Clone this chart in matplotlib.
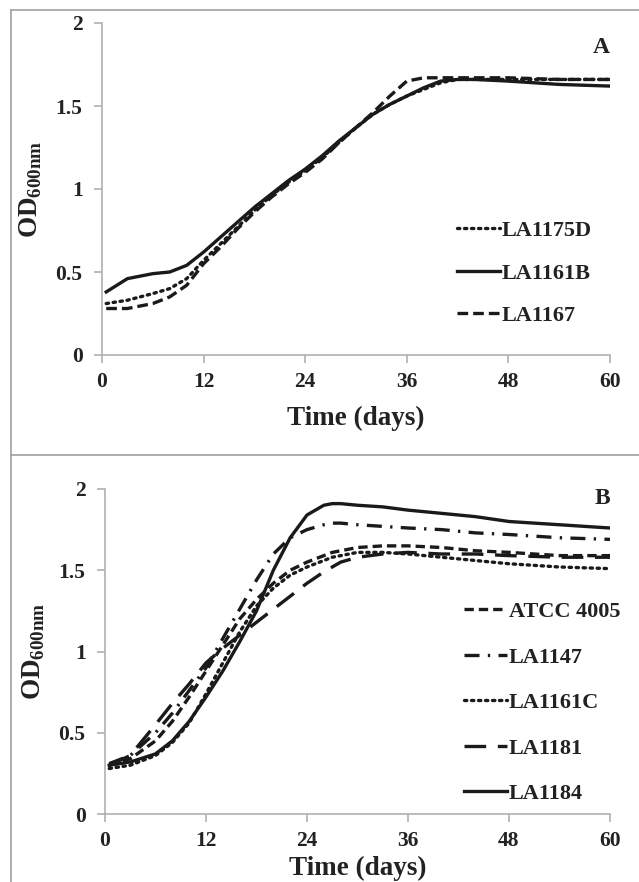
import matplotlib
matplotlib.use("Agg")
import matplotlib.pyplot as plt
from matplotlib.lines import Line2D

plt.rcParams['font.family'] = ['Liberation Serif', 'DejaVu Serif']
plt.rcParams['font.weight'] = 'bold'
plt.rcParams['mathtext.fontset'] = 'custom'
plt.rcParams['mathtext.rm'] = 'Liberation Serif:bold'

# panel A
days_a = [0.5, 3, 6, 8, 10, 12, 14, 16, 18, 20, 22, 24, 26, 28, 30, 32, 34, 36, 38, 40, 42, 44, 48, 54, 60]
la1175d = [0.31, 0.33, 0.37, 0.40, 0.46, 0.57, 0.67, 0.77, 0.87, 0.96, 1.04, 1.11, 1.19, 1.28, 1.37, 1.45, 1.51, 1.56, 1.60, 1.64, 1.66, 1.66, 1.66, 1.66, 1.66]
la1161b = [0.38, 0.46, 0.49, 0.50, 0.54, 0.62, 0.71, 0.80, 0.89, 0.97, 1.05, 1.12, 1.20, 1.29, 1.37, 1.45, 1.51, 1.56, 1.61, 1.65, 1.66, 1.66, 1.65, 1.63, 1.62]
la1167 = [0.28, 0.28, 0.31, 0.35, 0.42, 0.55, 0.65, 0.76, 0.86, 0.95, 1.03, 1.10, 1.18, 1.28, 1.37, 1.46, 1.56, 1.65, 1.67, 1.67, 1.67, 1.67, 1.67, 1.66, 1.66]

# panel B
days_b = [0.5, 3, 6, 8, 10, 12, 14, 16, 18, 20, 22, 24, 26, 27, 28, 30, 33, 36, 40, 44, 48, 54, 60]
atcc4005 = [0.30, 0.34, 0.45, 0.57, 0.72, 0.88, 1.04, 1.20, 1.32, 1.42, 1.50, 1.55, 1.59, 1.61, 1.62, 1.64, 1.65, 1.65, 1.64, 1.62, 1.61, 1.59, 1.59]
la1147 = [0.31, 0.36, 0.50, 0.62, 0.76, 0.90, 1.08, 1.26, 1.44, 1.60, 1.70, 1.75, 1.78, 1.79, 1.79, 1.78, 1.77, 1.76, 1.75, 1.73, 1.72, 1.70, 1.69]
la1161c = [0.28, 0.30, 0.36, 0.44, 0.56, 0.74, 0.93, 1.12, 1.28, 1.39, 1.47, 1.52, 1.56, 1.58, 1.59, 1.61, 1.61, 1.60, 1.58, 1.56, 1.54, 1.52, 1.51]
la1181 = [0.30, 0.36, 0.55, 0.68, 0.80, 0.93, 1.02, 1.10, 1.18, 1.26, 1.34, 1.42, 1.49, 1.52, 1.55, 1.58, 1.60, 1.61, 1.60, 1.60, 1.59, 1.58, 1.58]
la1184 = [0.30, 0.32, 0.37, 0.45, 0.57, 0.72, 0.88, 1.06, 1.25, 1.50, 1.70, 1.84, 1.90, 1.91, 1.91, 1.90, 1.89, 1.87, 1.85, 1.83, 1.80, 1.78, 1.76]

xticks = [0, 12, 24, 36, 48, 60]
yticks = [0, 0.5, 1, 1.5, 2]
ytick_labels = ['0', '0.5', '1', '1.5', '2']

W, H = 639, 882
fig = plt.figure(figsize=(W / 100, H / 100), dpi=100)

# gray frames around the two panels
gray = '#a0a0a0'
fig.add_artist(Line2D([11 / W, 11 / W], [0, 1 - 10 / H], color=gray, lw=1.2))
fig.add_artist(Line2D([11 / W, 1], [1 - 10 / H, 1 - 10 / H], color=gray, lw=1.2))
fig.add_artist(Line2D([11 / W, 1], [1 - 455 / H, 1 - 455 / H], color=gray, lw=1.2))

txt = '#222222'


def style_axes(ax, letter, letter_y, xpad):
    for s in ['top', 'right']:
        ax.spines[s].set_visible(False)
    for s in ['left', 'bottom']:
        ax.spines[s].set_color('#b0b0b0')
        ax.spines[s].set_linewidth(1.2)
    ax.set_xlim(0, 60)
    ax.set_ylim(0, 2)
    ax.set_xticks(xticks)
    ax.set_yticks(yticks)
    ax.set_yticklabels(ytick_labels)
    ax.tick_params(axis='both', colors='#b0b0b0', labelcolor=txt, labelsize=15.5, length=6, width=1.2, direction='out')
    ax.tick_params(axis='x', pad=6)
    ax.tick_params(axis='y', pad=8)
    ax.set_xlabel('Time (days)', fontsize=19.5, fontweight='bold', color=txt, labelpad=xpad)
    ax.set_ylabel(r'OD$_{\mathrm{600nm}}$', fontsize=19.5, fontweight='bold', color=txt, labelpad=8)
    ax.text(1.0, letter_y, letter, transform=ax.transAxes, ha='right', va='center', fontsize=17, fontweight='bold', color=txt)


lw = 2.4
axA = fig.add_axes([102 / W, 1 - 355 / H, 508 / W, 332 / H])
axA.plot(days_a, la1175d, color='#1a1a1a', lw=lw, linestyle=(0, (0.7, 1.4)), dash_capstyle='round', label='LA1175D')
axA.plot(days_a, la1161b, color='#1a1a1a', lw=lw, linestyle='-', label='LA1161B')
axA.plot(days_a, la1167, color='#1a1a1a', lw=lw, linestyle=(0, (3.2, 1.5)), label='LA1167')
style_axes(axA, 'A', 0.925, 10)
axA.legend(loc='upper left', bbox_to_anchor=(0.66, 0.465), frameon=False, fontsize=16, handlelength=1.9,
           handletextpad=0.1, labelspacing=0.98, labelcolor=txt)

axB = fig.add_axes([105 / W, 1 - 814 / H, 505 / W, 325 / H])
axB.plot(days_b, atcc4005, color='#1a1a1a', lw=lw, linestyle=(0, (2.8, 1.5)), label='ATCC 4005')
axB.plot(days_b, la1147, color='#1a1a1a', lw=lw, linestyle=(0, (4.5, 2.5, 0.7, 2.5)), label='LA1147')
axB.plot(days_b, la1161c, color='#1a1a1a', lw=lw, linestyle=(0, (0.7, 1.4)), dash_capstyle='round', label='LA1161C')
axB.plot(days_b, la1181, color='#1a1a1a', lw=lw, linestyle=(0, (6.5, 3.5)), label='LA1181')
axB.plot(days_b, la1184, color='#1a1a1a', lw=lw, linestyle='-', label='LA1184')
style_axes(axB, 'B', 0.97, 4)
axB.legend(loc='upper left', bbox_to_anchor=(0.672, 0.715), frameon=False, fontsize=16, handlelength=1.9,
           handletextpad=0.1, labelspacing=1.12, labelcolor=txt)

fig.savefig('out.png', dpi=100)
